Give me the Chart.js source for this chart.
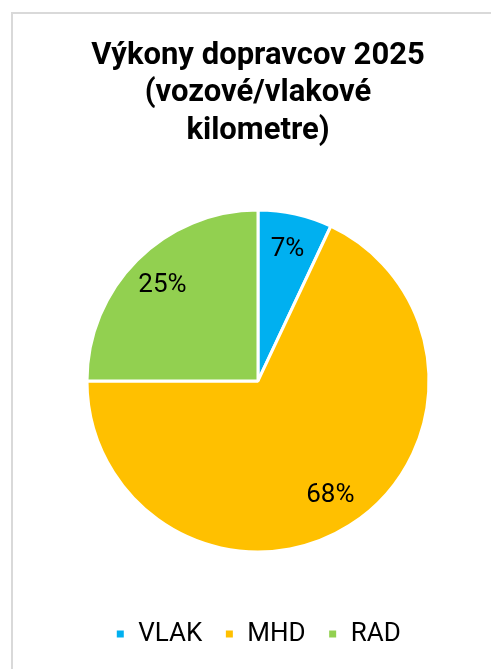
<!DOCTYPE html>
<html>
<head>
<meta charset="utf-8">
<script src="https://cdn.jsdelivr.net/npm/chart.js@4"></script>
<style>
  html, body { margin: 0; padding: 0; background: #ffffff; width: 491px; height: 669px; overflow: hidden; }
  #frame { position: absolute; left: 11px; top: 12px; width: 600px; height: 700px;
           border-left: 2px solid #d9d9d9; border-top: 2px solid #d9d9d9; }
  #wrap { position: absolute; left: 0; top: 0; width: 491px; height: 669px; }
</style>
</head>
<body>
<div id="frame"></div>
<div id="wrap"><canvas id="c" width="491" height="669"></canvas></div>
<script>
const titleLines = ["Výkony dopravcov 2025", "(vozové/vlakové", "kilometre)"];
const categories = ["VLAK", "MHD", "RAD"];
const shares = [7, 68, 25];
const colors = ["#00B0F0", "#FFC000", "#92D050"];

const pieLabels = {
  id: 'pieLabels',
  afterDatasetsDraw(chart) {
    const ctx = chart.ctx;
    const meta = chart.getDatasetMeta(0);
    const data = chart.data.datasets[0].data;
    const total = data.reduce((a, b) => a + b, 0);
    ctx.save();
    ctx.font = '26px Roboto';
    ctx.fillStyle = '#000000';
    ctx.textAlign = 'center';
    ctx.textBaseline = 'middle';
    meta.data.forEach((arc, i) => {
      const p = arc.getProps(['x', 'y', 'startAngle', 'endAngle', 'outerRadius'], true);
      const mid = (p.startAngle + p.endAngle) / 2;
      const r = p.outerRadius * 0.79;
      const x = p.x + Math.cos(mid) * r;
      const y = p.y + Math.sin(mid) * r;
      ctx.fillText(Math.round(data[i] / total * 100) + '%', x, y);
    });
    ctx.restore();
  }
};

new Chart(document.getElementById('c'), {
  type: 'pie',
  data: {
    labels: categories,
    datasets: [{
      data: shares,
      backgroundColor: colors,
      borderColor: '#ffffff',
      borderWidth: 3,
      radius: 171
    }]
  },
  options: {
    responsive: false,
    animation: false,
    layout: { padding: { left: 25, right: 0, top: 0, bottom: 12 } },
    plugins: {
      tooltip: { enabled: false },
      title: {
        display: true,
        text: titleLines,
        color: '#000000',
        font: { family: 'Roboto', size: 31, weight: 'bold', lineHeight: 1.22 },
        padding: { top: 37, bottom: 12.5 }
      },
      legend: {
        position: 'bottom',
        labels: {
          color: '#000000',
          font: { family: 'Roboto', size: 26 },
          boxWidth: 10,
          boxHeight: 10,
          padding: 22
        }
      }
    }
  },
  plugins: [pieLabels]
});
</script>
</body>
</html>
